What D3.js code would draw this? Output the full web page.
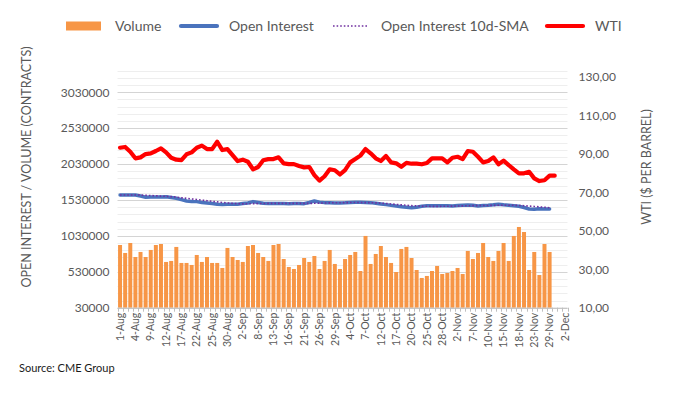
<!DOCTYPE html>
<html lang="en">
<head>
    <meta charset="UTF-8">
    <title>Open Interest / Volume vs WTI</title>
    <style>
        body {
            margin: 0;
            background: #fff;
        }
        #chart text {
            font-family: Lato, "Open Sans", sans-serif;
            fill: #595959;
        }
    </style>
</head>
<body>
    <div id="chart"></div>

    <script src="https://d3js.org/d3.v7.min.js"></script>
    <script>
        // trading days, 1-Aug to 2-Dec
        const dates = [
            '1-Aug', '2-Aug', '3-Aug', '4-Aug', '5-Aug', '8-Aug', '9-Aug', '10-Aug', '11-Aug', '12-Aug',
            '15-Aug', '16-Aug', '17-Aug', '18-Aug', '19-Aug', '22-Aug', '23-Aug', '24-Aug', '25-Aug', '26-Aug',
            '29-Aug', '30-Aug', '31-Aug', '1-Sep', '2-Sep', '6-Sep', '7-Sep', '8-Sep', '9-Sep', '12-Sep',
            '13-Sep', '14-Sep', '15-Sep', '16-Sep', '19-Sep', '20-Sep', '21-Sep', '22-Sep', '23-Sep', '26-Sep',
            '27-Sep', '28-Sep', '29-Sep', '30-Sep', '3-Oct', '4-Oct', '5-Oct', '6-Oct', '7-Oct', '10-Oct',
            '11-Oct', '12-Oct', '13-Oct', '14-Oct', '17-Oct', '18-Oct', '19-Oct', '20-Oct', '21-Oct', '24-Oct',
            '25-Oct', '26-Oct', '27-Oct', '28-Oct', '31-Oct', '1-Nov', '2-Nov', '3-Nov', '4-Nov', '7-Nov',
            '8-Nov', '9-Nov', '10-Nov', '11-Nov', '14-Nov', '15-Nov', '16-Nov', '17-Nov', '18-Nov', '21-Nov',
            '22-Nov', '23-Nov', '25-Nov', '28-Nov', '29-Nov', '30-Nov', '1-Dec', '2-Dec'
        ]

        const volume = [
            903000, 792000, 931000, 736000, 806000, 736000, 834000, 903000, 917000, 667000,
            681000, 876000, 653000, 653000, 625000, 764000, 667000, 736000, 653000, 653000,
            583000, 862000, 736000, 694000, 667000, 889000, 903000, 792000, 736000, 681000,
            903000, 917000, 708000, 597000, 569000, 625000, 722000, 667000, 750000, 569000,
            681000, 834000, 639000, 569000, 708000, 764000, 806000, 541000, 1029000, 639000,
            778000, 889000, 736000, 653000, 527000, 848000, 876000, 722000, 555000, 444000,
            472000, 541000, 611000, 499000, 513000, 541000, 583000, 499000, 820000, 708000,
            792000, 931000, 736000, 681000, 820000, 931000, 681000, 1029000, 1154000, 1084000,
            555000, 806000, 485000, 917000, 806000
        ]

        const openInterest = [
            1600000, 1600000, 1600000, 1598000, 1585000, 1568000, 1570000, 1570000, 1572000, 1576000,
            1565000, 1554000, 1535000, 1516000, 1510000, 1507000, 1495000, 1488000, 1480000, 1470000,
            1468000, 1470000, 1470000, 1472000, 1480000, 1488000, 1507000, 1495000, 1484000, 1480000,
            1480000, 1481000, 1480000, 1479000, 1480000, 1481000, 1479000, 1495000, 1516000, 1500000,
            1493000, 1490000, 1488000, 1488000, 1490000, 1495000, 1498000, 1498000, 1496000, 1493000,
            1485000, 1475000, 1465000, 1455000, 1445000, 1437000, 1430000, 1423000, 1430000, 1442000,
            1448000, 1451000, 1451000, 1451000, 1451000, 1447000, 1452000, 1458000, 1461000, 1455000,
            1447000, 1452000, 1456000, 1462000, 1470000, 1462000, 1456000, 1450000, 1442000, 1425000,
            1405000, 1401000, 1409000, 1405000, 1405000
        ]

        const openInterestSma = [
            1600000, 1600000, 1600000, 1600000, 1598000, 1595000, 1592000, 1588000, 1584000, 1580000,
            1576000, 1570000, 1562000, 1553000, 1545000, 1537000, 1528000, 1520000, 1512000, 1503000,
            1495000, 1488000, 1482000, 1478000, 1476000, 1477000, 1479000, 1480000, 1481000, 1482000,
            1482000, 1482000, 1482000, 1482000, 1482000, 1482000, 1482000, 1482000, 1484000, 1486000,
            1488000, 1490000, 1491000, 1492000, 1493000, 1494000, 1494000, 1494000, 1493000, 1492000,
            1490000, 1486000, 1481000, 1475000, 1468000, 1462000, 1456000, 1451000, 1447000, 1444000,
            1442000, 1441000, 1441000, 1442000, 1443000, 1444000, 1446000, 1448000, 1450000, 1451000,
            1452000, 1453000, 1454000, 1455000, 1456000, 1457000, 1457000, 1456000, 1454000, 1450000,
            1445000, 1440000, 1434000, 1428000, 1422000
        ]

        const wti = [
            93.1, 93.5, 91.0, 87.6, 88.1, 89.8, 90.2, 91.4, 92.8, 90.7,
            87.9, 86.9, 86.7, 89.7, 90.7, 93.1, 94.2, 92.4, 92.4, 96.2,
            91.9, 92.4, 89.3, 86.2, 86.9, 85.8, 81.9, 83.1, 86.6, 87.2,
            87.2, 88.1, 85.0, 84.6, 84.6, 83.6, 82.9, 83.1, 78.9, 76.0,
            78.3, 81.9, 81.4, 79.2, 81.5, 85.5, 87.2, 89.0, 92.4, 90.2,
            87.6, 86.2, 88.8, 85.5, 85.0, 83.2, 85.2, 84.8, 84.8, 84.5,
            85.2, 87.6, 87.6, 87.6, 85.5, 87.9, 88.4, 87.2, 91.4, 91.0,
            88.4, 85.5, 86.2, 88.1, 84.5, 86.4, 84.1, 81.9, 79.8, 79.8,
            80.6, 77.2, 75.8, 76.2, 78.6, 78.6
        ]

        const leftTicks = [30000, 530000, 1030000, 1530000, 2030000, 2530000, 3030000]
        const rightTicks = [10, 30, 50, 70, 90, 110, 130]

        const width = 676
        const height = 393
        const plotLeft = 117.5
        const plotRight = 567.5
        const plotTop = 70.7
        const plotBottom = 307.7

        const colors = {
            volume: '#f79646',
            oi: '#4a73bd',
            sma: '#7030a0',
            wti: '#ff0000'
        }

        const svg = d3.select('#chart')
            .append('svg')
            .attr('width', width)
            .attr('height', height)

        const x = d3.scaleBand()
            .domain(dates)
            .range([plotLeft, plotRight])
            .paddingInner(0.22)
            .paddingOuter(0.11)

        const yLeft = d3.scaleLinear()
            .domain([30000, 3330000])
            .range([plotBottom, plotTop])

        const yRight = d3.scaleLinear()
            .domain([10, 130])
            .range([plotBottom, plotBottom - 231])

        const cx = i => x(dates[i]) + x.bandwidth() / 2

        drawGrid()
        drawBars()
        drawLines()
        drawAxes()
        drawLegend()

        svg.append('text')
            .attr('x', 19)
            .attr('y', 372)
            .style('font-size', '11px')
            .style('fill', '#1a1a1a')
            .text('Source: CME Group')

        // 背景网格
        function drawGrid() {
            const g = svg.append('g').attr('class', 'grid')
            const minor = d3.range(30000, 3330001, 100000)
            g.selectAll('line')
                .data(minor)
                .enter()
                .append('line')
                .attr('x1', plotLeft)
                .attr('x2', plotRight)
                .attr('y1', d => Math.round(yLeft(d)) + 0.5)
                .attr('y2', d => Math.round(yLeft(d)) + 0.5)
                .attr('stroke', d => (d - 30000) % 500000 === 0 ? '#d4d4d4' : '#eeeeee')
                .attr('stroke-width', 1)
        }

        function drawBars() {
            svg.append('g')
                .attr('class', 'bars')
                .selectAll('rect')
                .data(volume)
                .enter()
                .append('rect')
                .attr('x', (d, i) => x(dates[i]))
                .attr('width', x.bandwidth())
                .attr('y', d => yLeft(d))
                .attr('height', d => yLeft(30000) - yLeft(d))
                .attr('fill', colors.volume)
        }

        function drawLines() {
            const leftLine = d3.line()
                .x((d, i) => cx(i))
                .y(d => yLeft(d))

            svg.append('path')
                .datum(openInterest)
                .attr('d', leftLine)
                .attr('fill', 'none')
                .attr('stroke', colors.oi)
                .attr('stroke-width', 3.5)
                .attr('stroke-linecap', 'round')
                .attr('stroke-linejoin', 'round')

            svg.append('path')
                .datum(openInterestSma)
                .attr('d', leftLine)
                .attr('fill', 'none')
                .attr('stroke', colors.sma)
                .attr('stroke-width', 1.6)
                .attr('stroke-dasharray', '1.6,2')

            const rightLine = d3.line()
                .x((d, i) => cx(i))
                .y(d => yRight(d))

            svg.append('path')
                .datum(wti)
                .attr('d', rightLine)
                .attr('fill', 'none')
                .attr('stroke', colors.wti)
                .attr('stroke-width', 4.2)
                .attr('stroke-linecap', 'round')
                .attr('stroke-linejoin', 'round')
        }

        function drawAxes() {
            // x轴
            const xAxis = d3.axisBottom(x)
                .tickValues(dates.filter((d, i) => i % 3 === 0))
                .tickSize(0)
                .tickPadding(0)

            const gx = svg.append('g')
                .attr('transform', `translate(0, ${plotBottom})`)
                .call(xAxis)
            gx.select('.domain').remove()
            gx.selectAll('text')
                .attr('transform', 'translate(0, 5) rotate(-90)')
                .attr('x', 0)
                .attr('y', 0)
                .attr('dy', '0.35em')
                .attr('text-anchor', 'end')
                .style('font-size', '10.5px')

            svg.append('line')
                .attr('x1', plotLeft)
                .attr('x2', plotRight)
                .attr('y1', plotBottom + 0.5)
                .attr('y2', plotBottom + 0.5)
                .attr('stroke', '#bfbfbf')

            // category boundary ticks
            const bounds = dates.map(d => x(d) - x.step() * x.paddingInner() / 2).concat([plotRight])
            svg.append('g')
                .selectAll('line')
                .data(bounds)
                .enter()
                .append('line')
                .attr('x1', d => Math.round(d) + 0.5)
                .attr('x2', d => Math.round(d) + 0.5)
                .attr('y1', plotBottom)
                .attr('y2', plotBottom + 4)
                .attr('stroke', '#bfbfbf')

            const gl = svg.append('g')
                .attr('transform', `translate(${plotLeft}, 0)`)
                .call(d3.axisLeft(yLeft).tickValues(leftTicks).tickSize(0).tickPadding(8).tickFormat(d3.format('d')))
            gl.select('.domain').remove()
            gl.selectAll('text').style('font-size', '12px')

            const gr = svg.append('g')
                .attr('transform', `translate(${plotRight}, 0)`)
                .call(d3.axisRight(yRight).tickValues(rightTicks).tickSize(0).tickPadding(11)
                    .tickFormat(d => d.toFixed(2).replace('.', ',')))
            gr.select('.domain').remove()
            gr.selectAll('text').style('font-size', '12px')

            svg.append('text')
                .attr('transform', 'translate(31, 167) rotate(-90)')
                .attr('text-anchor', 'middle')
                .style('font-size', '12.5px')
                .text('OPEN INTEREST / VOLUME (CONTRACTS)')

            svg.append('text')
                .attr('transform', 'translate(651, 167) rotate(-90)')
                .attr('text-anchor', 'middle')
                .style('font-size', '12.5px')
                .text('WTI ($ PER BARREL)')
        }

        function drawLegend() {
            const items = [
                { name: 'Volume', type: 'bar', color: colors.volume, x: 66 },
                { name: 'Open Interest', type: 'line', color: colors.oi, x: 180 },
                { name: 'Open Interest 10d-SMA', type: 'dot', color: colors.sma, x: 332 },
                { name: 'WTI', type: 'line', color: colors.wti, x: 546 }
            ]
            const ly = 26
            const g = svg.append('g').attr('class', 'legend')
            items.forEach(it => {
                if (it.type === 'bar') {
                    g.append('rect')
                        .attr('x', it.x).attr('y', ly - 4.5)
                        .attr('width', 35).attr('height', 9)
                        .attr('fill', it.color)
                } else {
                    g.append('line')
                        .attr('x1', it.x + 1).attr('x2', it.x + 37)
                        .attr('y1', ly).attr('y2', ly)
                        .attr('stroke', it.color)
                        .attr('stroke-width', it.type === 'dot' ? 1.6 : 4.2)
                        .attr('stroke-dasharray', it.type === 'dot' ? '1.6,2' : null)
                        .attr('stroke-linecap', it.type === 'dot' ? 'butt' : 'round')
                }
                g.append('text')
                    .attr('x', it.x + 49)
                    .attr('y', ly)
                    .attr('dy', '0.36em')
                    .style('font-size', '14px')
                    .text(it.name)
            })
        }
    </script>
</body>
</html>
